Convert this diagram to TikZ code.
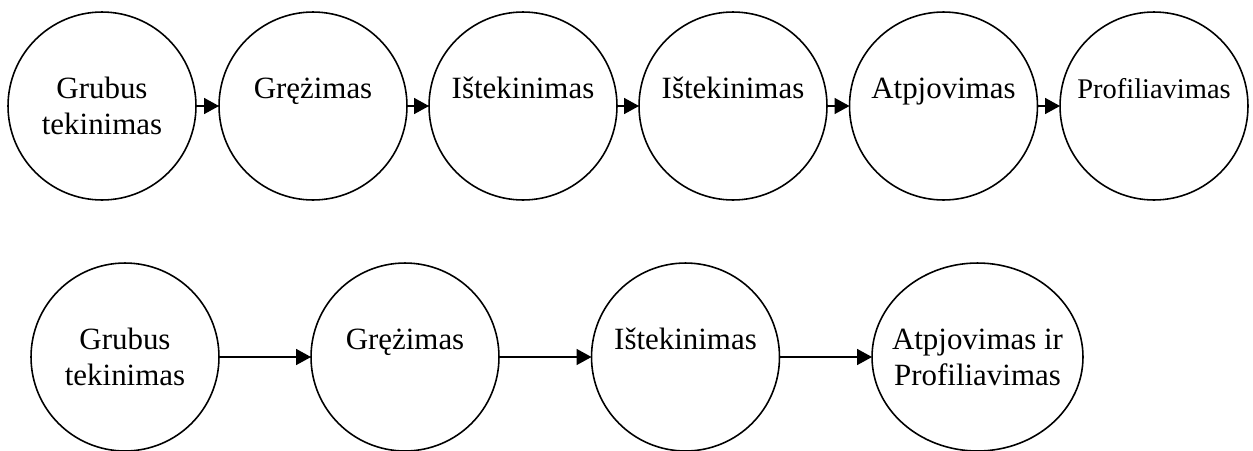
\documentclass[tikz,border=0pt]{standalone}
\usepackage{fontspec}
\setmainfont{Liberation Serif}
\usetikzlibrary{arrows.meta,shapes.geometric}
\begin{document}
\begin{tikzpicture}[x=0.02cm,y=-0.02cm,
	stage/.style={draw,circle,line width=0.9pt,inner sep=0pt,outer sep=0pt,
		minimum size=3.76cm,align=center,
		font=\fontsize{17.6pt}{20.5pt}\selectfont},
	flow/.style={line width=0.9pt,-{Triangle[length=0.3cm,width=0.32cm]}}]
	\useasboundingbox (0,0) rectangle (1253,450);
	% upper chain
	\node[stage] (a1) at (102,106) {Grubus\\tekinimas};
	\node[stage] (a2) at (313,106) {Grężimas\\\mbox{}};
	\node[stage] (a3) at (523,106) {Ištekinimas\\\mbox{}};
	\node[stage] (a4) at (733,106) {Ištekinimas\\\mbox{}};
	\node[stage] (a5) at (943.5,106) {Atpjovimas\\\mbox{}};
	\node[stage,font=\fontsize{16.2pt}{20.5pt}\selectfont] (a6) at (1154,106) {Profiliavimas\\\mbox{}};
	\draw[flow] (a1) -- (a2);
	\draw[flow] (a2) -- (a3);
	\draw[flow] (a3) -- (a4);
	\draw[flow] (a4) -- (a5);
	\draw[flow] (a5) -- (a6);
	% lower chain
	\node[stage] (b1) at (125,357) {Grubus\\tekinimas};
	\node[stage] (b2) at (405,357) {Grężimas\\\mbox{}};
	\node[stage] (b3) at (685.5,357) {Ištekinimas\\\mbox{}};
	\node[stage,ellipse,minimum width=4.22cm,inner xsep=-0.35cm] (b4) at (977.5,357) {Atpjovimas ir\\Profiliavimas};
	\draw[flow] (b1) -- (b2);
	\draw[flow] (b2) -- (b3);
	\draw[flow] (b3) -- (b4);
\end{tikzpicture}
\end{document}
